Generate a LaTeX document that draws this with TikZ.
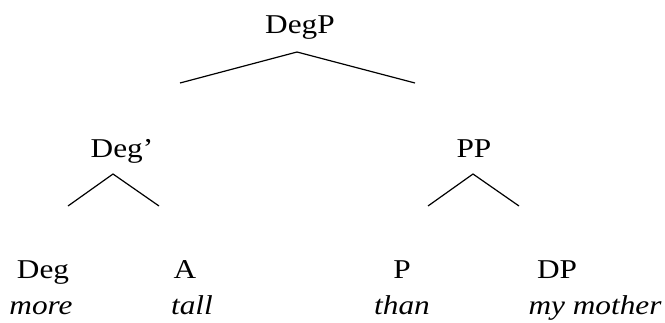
\documentclass[tikz,border=0pt]{standalone}
\usepackage{fontspec}
\setmainfont{Liberation Serif}[FakeStretch=1.15]
\begin{document}
\begin{tikzpicture}[x=0.5pt, y=-0.5pt, line width=0.6pt,
        cat/.style={anchor=base, inner sep=0pt, font=\fontsize{13.6}{16}\selectfont},
        word/.style={cat, font=\fontsize{13.6}{16}\selectfont\itshape}]
        \useasboundingbox (0,0) rectangle (665,322);

        % category labels
        \node[cat] (degp) at (300,33) {DegP};
        \node[cat] (degbar) at (122,157) {Deg'};
        \node[cat] (pp) at (474,157) {PP};
        \foreach \name/\x/\lab in {deg/43/Deg, a/185/A, p/402/P, dp/557/DP}
            \node[cat] (\name) at (\x,278) {\lab};

        % words
        \foreach \name/\x/\lab in {more/41/more, tall/192/tall, than/402/than, mother/595/my mother}
            \node[word] (\name) at (\x,314) {\lab};

        % branches
        \coordinate (degp-top) at (297,52);
        \coordinate (degp-l) at (180,83);
        \coordinate (degp-r) at (415,83);
        \coordinate (degbar-top) at (113,174);
        \coordinate (degbar-l) at (68,206);
        \coordinate (degbar-r) at (159,206);
        \coordinate (pp-top) at (473,174);
        \coordinate (pp-l) at (428,206);
        \coordinate (pp-r) at (519,206);
        \foreach \n in {degp, degbar, pp}
            \draw (\n-l) -- (\n-top) -- (\n-r);
    \end{tikzpicture}
\end{document}
